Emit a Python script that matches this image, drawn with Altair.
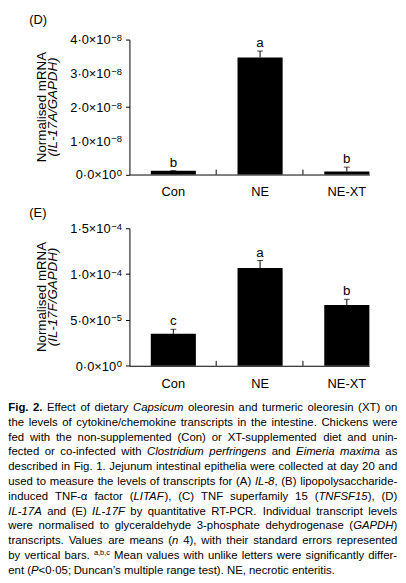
import altair as alt
import pandas as pd

FONT = "Liberation Sans, Arial, Helvetica, sans-serif"

groups = ["Con", "NE", "NE-XT"]

il17a_mean = [1.1e-9, 3.47e-8, 0.9e-9]
il17a_se = [0.05e-9, 0.19e-8, 1.3e-9]
il17a_letters = ["b", "a", "b"]

il17f_mean = [3.48e-5, 1.066e-4, 6.64e-5]
il17f_se = [0.5e-5, 0.82e-5, 0.61e-5]
il17f_letters = ["c", "a", "b"]

yD_ticks = [0, 1e-8, 2e-8, 3e-8, 4e-8]
yD_mant = ["0·0×10", "1·0×10", "2·0×10", "3·0×10", "4·0×10"]
yD_exp = ["0", "\u22128", "\u22128", "\u22128", "\u22128"]
yE_ticks = [0, 5e-5, 1e-4, 1.5e-4]
yE_mant = ["0·0×10", "5·0×10", "1·0×10", "1·5×10"]
yE_exp = ["0", "\u22125", "\u22124", "\u22124"]

cap_lines = [
    [("Fig. 2.", "b"), (" Effect of dietary ", "n"), ("Capsicum", "i"),
     (" oleoresin and turmeric oleoresin (XT) on", "n")],
    [("the levels of cytokine/chemokine transcripts in the intestine. Chickens were", "n")],
    [("fed with the non-supplemented (Con) or XT-supplemented diet and unin-", "n")],
    [("fected or co-infected with ", "n"), ("Clostridium perfringens", "i"), (" and ", "n"),
     ("Eimeria maxima", "i"), (" as", "n")],
    [("described in Fig. 1. Jejunum intestinal epithelia were collected at day 20 and", "n")],
    [("used to measure the levels of transcripts for (A) ", "n"), ("IL-8", "i"),
     (", (B) lipopolysaccharide-", "n")],
    [("induced TNF-α factor (", "n"), ("LITAF", "i"), ("), (C) TNF superfamily 15 (", "n"),
     ("TNFSF15", "i"), ("), (D)", "n")],
    [("IL-17A", "i"), (" and (E) ", "n"), ("IL-17F", "i"),
     (" by quantitative RT-PCR. Individual transcript levels", "n")],
    [("were normalised to glyceraldehyde 3-phosphate dehydrogenase (", "n"), ("GAPDH", "i"), (")", "n")],
    [("transcripts. Values are means (", "n"), ("n", "i"),
     (" 4), with their standard errors represented", "n")],
    [("by vertical bars. ", "n"), ("a,b,c", "s"),
     (" Mean values with unlike letters were significantly differ-", "n")],
    [("ent (", "n"), ("P", "i"), ("<0·05; Duncan’s multiple range test). NE, necrotic enteritis.", "n")],
]

# ---- Arial/Helvetica advance widths (per 1000 em), used for text layout ----
REG = {" ": 278, "!": 278, "'": 191, "(": 333, ")": 333, ",": 278, "-": 333, ".": 278,
       "/": 278, ":": 278, ";": 278, "<": 584, "·": 278, "α": 578, "’": 222,
       "\u2212": 584, "×": 584}
for d in "0123456789":
    REG[d] = 556
REG.update(dict(zip("ABCDEFGHIJKLMNOPQRSTUVWXYZ",
                    [667, 667, 722, 722, 667, 611, 778, 722, 278, 500, 667, 556, 833, 722,
                     778, 667, 778, 722, 667, 611, 722, 667, 944, 667, 667, 611])))
REG.update(dict(zip("abcdefghijklmnopqrstuvwxyz",
                    [556, 556, 500, 556, 556, 278, 556, 556, 222, 222, 500, 222, 833, 556,
                     556, 556, 556, 333, 500, 278, 556, 500, 722, 500, 500, 500])))
BOLD = dict(REG)
BOLD.update({"F": 611, "i": 278, "g": 611, ".": 278, " ": 278, "2": 556})

CAP_SIZE = 11.5
SUP_SIZE = 7.5
LEFT = -122.7
TARGET = 394.0
Y0 = 13.0
LINE_H = 15.0

TICK_FS = 13
EXP_FS = 9.5
LAB_RIGHT = -7.5


def text_w(t, style):
    tab = BOLD if style == "b" else REG
    size = SUP_SIZE if style == "s" else CAP_SIZE
    return sum(tab.get(c, 556) for c in t) * size / 1000.0


rows = []
for li, line in enumerate(cap_lines):
    pieces = []
    pend = 0
    for text, style in line:
        parts = text.split(" ")
        for k, p in enumerate(parts):
            if k > 0:
                pend += 1
            if p:
                pieces.append((p, style, pend))
                pend = 0
    words_w = sum(text_w(p, s) for p, s, _ in pieces)
    nsp = sum(g for _, _, g in pieces)
    if li < len(cap_lines) - 1 and nsp > 0:
        sp = (TARGET - words_w) / nsp
    else:
        sp = REG[" "] * CAP_SIZE / 1000.0
    x = 0.0
    for p, s, g in pieces:
        x += g * sp
        rows.append({"t": p, "x": LEFT + x, "y": Y0 + li * LINE_H, "s": s})
        x += text_w(p, s)
cap_df = pd.DataFrame(rows)


def panel(tag, mean, se, letters, ticks, mants, exps, title2, height, tag_y):
    df = pd.DataFrame({"g": groups, "m": mean,
                       "top": [m + s for m, s in zip(mean, se)], "lab": letters})
    xs = alt.Scale(domain=groups, paddingInner=0.48, paddingOuter=0.123, align=1)
    ys = alt.Scale(domain=[ticks[0], ticks[-1]], nice=False, zero=True)
    yaxis = alt.Axis(values=ticks, labels=False, title=None, grid=False, tickSize=4,
                     domainColor="black", tickColor="black")
    xaxis = alt.Axis(title=None, ticks=False, labelAngle=0, labelPadding=11.5,
                     labelFontSize=13, labelFont=FONT, labelColor="black",
                     domainColor="black")
    base = alt.Chart(df)
    bars = base.mark_bar(color="black").encode(
        x=alt.X("g:N", scale=xs, axis=xaxis, sort=groups),
        y=alt.Y("m:Q", scale=ys, axis=yaxis))
    err = base.mark_rule(color="black", strokeWidth=1).encode(
        x=alt.X("g:N", sort=groups), y="m:Q", y2="top:Q")
    cap = base.mark_tick(color="black", thickness=1, size=6, orient="horizontal").encode(
        x=alt.X("g:N", sort=groups), y="top:Q")
    let = base.mark_text(fontSize=13.5, dy=-4, baseline="alphabetic", font=FONT,
                         color="black").encode(
        x=alt.X("g:N", sort=groups), y="top:Q", text="lab:N")
    xt = alt.Chart(pd.DataFrame({"g": groups[1:]})).mark_rule(
        color="black", xOffset=-21.6).encode(
        x=alt.X("g:N", bandPosition=0, sort=groups),
        y=alt.value(height), y2=alt.value(height - 5))

    # tick labels: mantissa + raised exponent
    ldf = pd.DataFrame({"v": ticks, "mt": mants, "ex": exps})
    lab_layers = [alt.Chart(ldf).mark_text(
        align="right", baseline="alphabetic", fontSize=EXP_FS, dy=1.5, font=FONT,
        color="black").encode(x=alt.value(LAB_RIGHT), y="v:Q", text="ex:N")]
    for e in sorted(set(exps)):
        w = sum(REG.get(c, 556) for c in e) * EXP_FS / 1000.0
        lab_layers.append(alt.Chart(ldf).transform_filter(alt.datum.ex == e).mark_text(
            align="right", baseline="alphabetic", fontSize=TICK_FS, dy=4.8, font=FONT,
            color="black").encode(x=alt.value(LAB_RIGHT - w - 0.8), y="v:Q", text="mt:N"))

    ann = alt.Chart(pd.DataFrame({"t": [tag]})).mark_text(
        align="left", baseline="alphabetic", fontSize=13, font=FONT, color="black").encode(
        text="t:N", x=alt.value(-101.4), y=alt.value(tag_y))
    t1 = alt.Chart(pd.DataFrame({"t": ["Normalised mRNA"]})).mark_text(
        angle=270, align="center", baseline="alphabetic", fontSize=13.5, font=FONT,
        color="black").encode(text="t:N", x=alt.value(-85), y=alt.value(height / 2))
    t2 = alt.Chart(pd.DataFrame({"t": ["(" + title2 + ")"]})).mark_text(
        angle=270, align="center", baseline="alphabetic", fontSize=13.5, font=FONT,
        fontStyle="italic", color="black").encode(
        text="t:N", x=alt.value(-73), y=alt.value(height / 2))
    return alt.layer(bars, err, cap, let, xt, *lab_layers, ann, t1, t2).properties(
        width=243, height=height)


pD = panel("(D)", il17a_mean, il17a_se, il17a_letters, yD_ticks, yD_mant, yD_exp,
           "IL-17A/GAPDH", 136.7, -15.3)
pE = panel("(E)", il17f_mean, il17f_se, il17f_letters, yE_ticks, yE_mant, yE_exp,
           "IL-17F/GAPDH", 139.3, -11)

cbase = alt.Chart(cap_df)
enc = dict(x=alt.X("x:Q", scale=None, axis=None), y=alt.Y("y:Q", scale=None, axis=None),
           text="t:N")
c_n = cbase.transform_filter("datum.s == 'n'").mark_text(
    align="left", baseline="alphabetic", fontSize=CAP_SIZE, font=FONT, color="black").encode(**enc)
c_i = cbase.transform_filter("datum.s == 'i'").mark_text(
    align="left", baseline="alphabetic", fontSize=CAP_SIZE, font=FONT, fontStyle="italic",
    color="black").encode(**enc)
c_b = cbase.transform_filter("datum.s == 'b'").mark_text(
    align="left", baseline="alphabetic", fontSize=CAP_SIZE, font=FONT, fontWeight="bold",
    color="black").encode(**enc)
c_s = cbase.transform_filter("datum.s == 's'").mark_text(
    align="left", baseline="alphabetic", fontSize=SUP_SIZE, font=FONT, dy=-4.5,
    color="black").encode(**enc)
# invisible anchor fixing the top edge of the caption block
c_top = alt.Chart(pd.DataFrame({"a": [0]})).mark_rule(opacity=0).encode(
    x=alt.value(0), x2=alt.value(10), y=alt.value(0))
caption = alt.layer(c_n, c_i, c_b, c_s, c_top).properties(width=243, height=10)

chart = alt.vconcat(pD, pE, caption, spacing=8.1).properties(
    padding={"left": 0, "top": 2.3, "right": 0, "bottom": 0}
).configure_view(stroke=None)

chart.save("out.html", embed_options={"renderer": "svg", "actions": False})
